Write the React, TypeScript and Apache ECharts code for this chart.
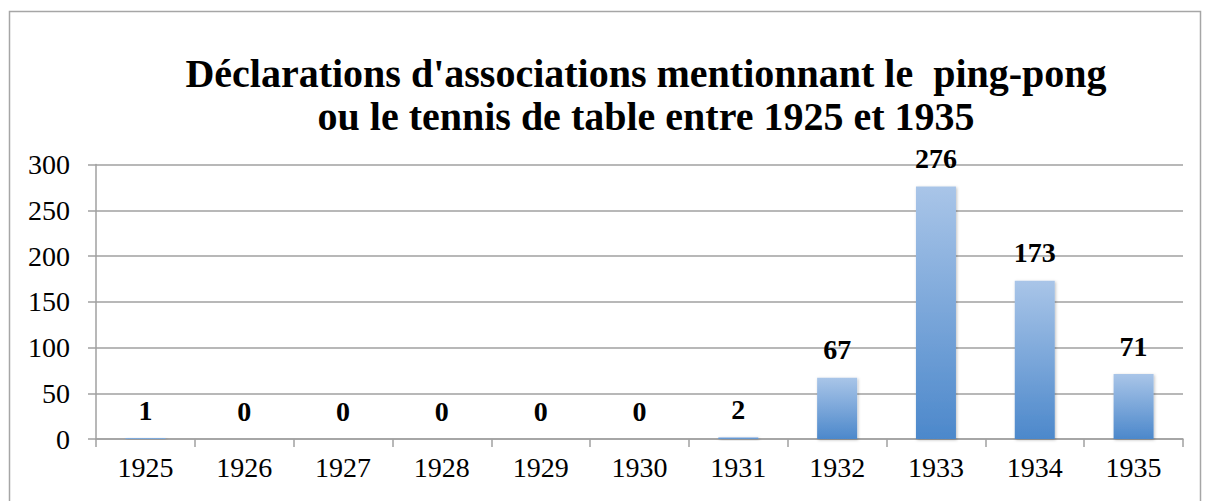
import React, { useEffect, useRef } from "react";
import * as echarts from "echarts";

const years = ["1925", "1926", "1927", "1928", "1929", "1930", "1931", "1932", "1933", "1934", "1935"];
const counts = [1, 0, 0, 0, 0, 0, 2, 67, 276, 173, 71];
const titleLines = ["Déclarations d'associations mentionnant le  ping-pong", "ou le tennis de table entre 1925 et 1935"];

export default function App() {
  const ref = useRef<HTMLDivElement>(null);
  useEffect(() => {
    const chart = echarts.init(ref.current!, null, { renderer: "svg" });
    const font = "Liberation Serif";
    chart.setOption({
      animation: false,
      backgroundColor: "#ffffff",
      graphic: [
        {
          type: "rect",
          shape: { x: 9.5, y: 11.5, width: 1191, height: 520 },
          style: { fill: "none", stroke: "#a6a6a6", lineWidth: 1.5 },
          silent: true,
        },
      ],
      title: {
        text: titleLines.join("\n"),
        left: 641,
        top: 47,
        textAlign: "center",
        textStyle: { fontFamily: font, fontWeight: "bold", fontSize: 40, lineHeight: 43, color: "#000" },
      },
      grid: { left: 96, right: 22, top: 164.5, bottom: 62, containLabel: false },
      xAxis: {
        type: "category",
        data: years,
        boundaryGap: true,
        axisLine: { lineStyle: { color: "#a0a0a0", width: 1.5 } },
        axisTick: { show: true, length: 8, lineStyle: { color: "#a0a0a0", width: 1.5 } },
        axisLabel: { fontFamily: font, fontSize: 28, color: "#000", margin: 14 },
      },
      yAxis: {
        type: "value",
        min: 0,
        max: 300,
        interval: 50,
        axisLine: { show: true, lineStyle: { color: "#a0a0a0", width: 1.5 } },
        axisTick: { show: true, length: 8, lineStyle: { color: "#a0a0a0", width: 1.5 } },
        splitLine: { lineStyle: { color: "#a0a0a0", width: 1.5 } },
        axisLabel: { fontFamily: font, fontSize: 28, color: "#000", margin: 26 },
      },
      series: [
        {
          type: "bar",
          data: counts,
          barWidth: 40,
          itemStyle: {
            color: new echarts.graphic.LinearGradient(0, 0, 0, 1, [
              { offset: 0, color: "#a9c5e8" },
              { offset: 1, color: "#4c88cb" },
            ]),
            shadowColor: "rgba(0,0,0,0.25)",
            shadowBlur: 3,
            shadowOffsetX: 1,
            shadowOffsetY: 1,
          },
          label: {
            show: true,
            position: "top",
            distance: 14,
            fontFamily: font,
            fontWeight: "bold",
            fontSize: 28,
            color: "#000",
          },
        },
      ],
    });
    return () => chart.dispose();
  }, []);
  return <div ref={ref} style={{ position: "absolute", left: 0, top: 0, width: 1205, height: 501 }} />;
}
